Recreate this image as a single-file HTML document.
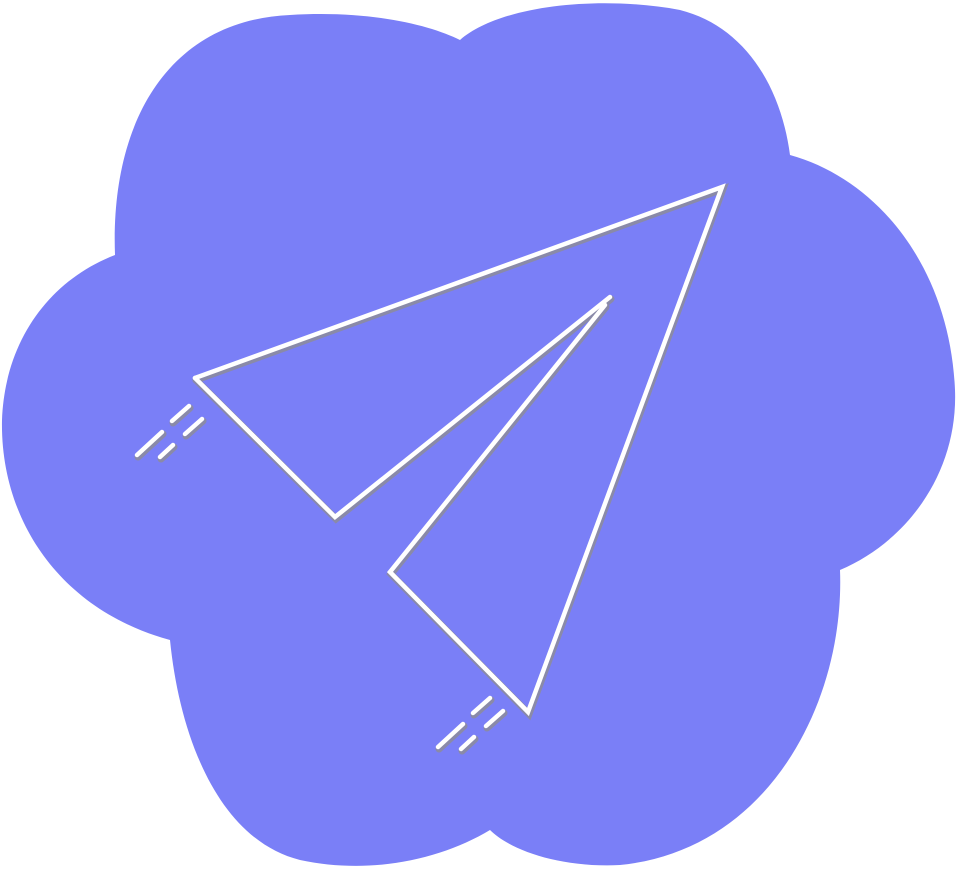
<!DOCTYPE html>
<html><head><meta charset="utf-8"><style>html,body{margin:0;padding:0;background:#fff}svg{display:block}</style></head>
<body>
<svg width="956" height="869" viewBox="0 0 956 869">
<path fill="#7a7ff7" d="M 115 255 C 110 120, 170 20, 290 15 C 370 10, 430 25, 460 40 C 500 5, 600 -5, 680 10 C 740 25, 780 80, 790 155 C 880 180, 950 270, 955 390 C 958 470, 910 540, 840 570 C 845 700, 770 850, 620 865 C 560 868, 510 850, 490 830 C 440 860, 370 875, 300 860 C 220 840, 180 740, 170 640 C 60 610, 0 520, 2 420 C 5 340, 50 280, 115 255 Z"/>
<g fill="none" stroke-linecap="round" stroke-linejoin="miter">
<g stroke="#8a8aa8" stroke-width="7" transform="translate(1,2)">
<polyline points="195,378 722,187 528,712 390,572 605,305"/>
<polyline points="195,378 335,517 610,297"/>
<path d="M189 406L172 421M202 419L185 434M162 432L137 455M173 445L160 457"/>
<path d="M490 698L473 713M503 711L486 726M463 724L438 747M474 737L461 749"/>
</g>
<g stroke="#ffffff" stroke-width="4.5">
<polyline points="195,378 722,187 528,712 390,572 605,305"/>
<polyline points="195,378 335,517 610,297"/>
<path d="M189 406L172 421M202 419L185 434M162 432L137 455M173 445L160 457"/>
<path d="M490 698L473 713M503 711L486 726M463 724L438 747M474 737L461 749"/>
</g>
</g>
</svg>
</body></html>
